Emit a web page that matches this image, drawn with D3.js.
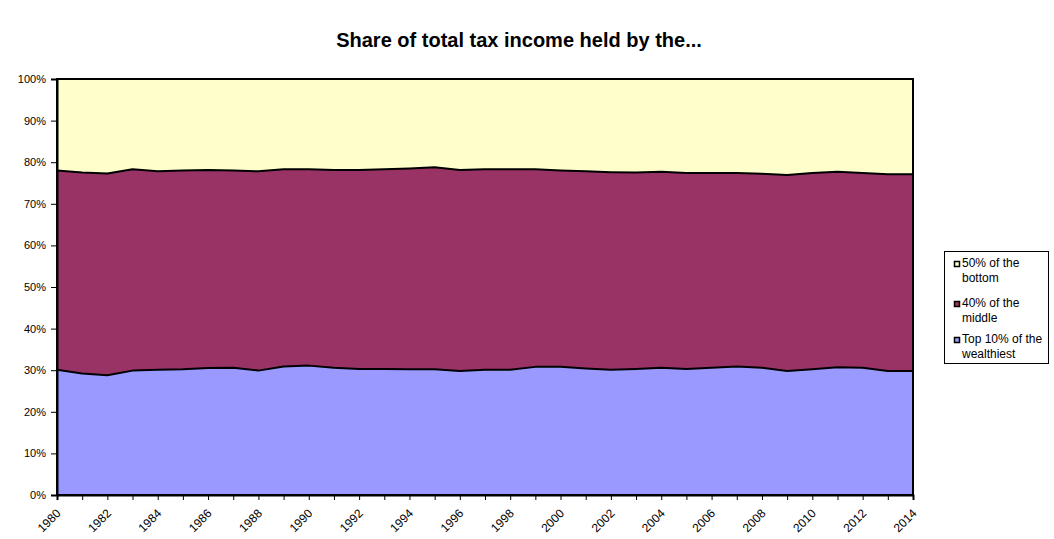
<!DOCTYPE html>
<html><head><meta charset="utf-8">
<script src="https://cdn.jsdelivr.net/npm/d3@7"></script>
<style>body{margin:0;background:#fff}svg{display:block}text{font-family:"Liberation Sans",Arial,sans-serif}</style>
</head><body><svg id="c" width="1054" height="539"></svg>
<script>
const years = d3.range(1980, 2015);
const top10 = [30.1,29.2,28.8,29.9,30.1,30.2,30.5,30.6,29.9,30.9,31.1,30.6,30.3,30.3,30.2,30.2,29.8,30.1,30.1,30.8,30.8,30.4,30.1,30.3,30.6,30.3,30.6,30.9,30.6,29.8,30.2,30.7,30.6,29.8,29.8];
const upper = [78.0,77.5,77.3,78.3,77.8,78.0,78.1,78.0,77.8,78.3,78.3,78.1,78.1,78.3,78.5,78.8,78.1,78.3,78.3,78.3,78.0,77.8,77.6,77.5,77.7,77.4,77.4,77.4,77.2,76.9,77.4,77.7,77.4,77.1,77.1];
const middle40 = upper.map((u,i)=>+(u-top10[i]).toFixed(1));
const bottom50 = upper.map(u=>+(100-u).toFixed(1));
const seriesNames = ["Top 10% of the wealthiest","40% of the middle","50% of the bottom"];
const seriesColors = ["#9999FF","#993366","#FFFFCC"];
const yTicks = [0,10,20,30,40,50,60,70,80,90,100];
const xLabelYears = d3.range(1980, 2015, 2);

const svg = d3.select("#c");
const L=57,R=913,T=79,B=495;
const x = d3.scaleLinear().domain([1980,2014]).range([L,R]);
const y = d3.scaleLinear().domain([0,100]).range([B,T]);

const table = years.map((yr,i)=>({year:yr, a:top10[i], b:middle40[i], c:bottom50[i]}));
const stack = d3.stack().keys(["a","b","c"])(table);
const area = d3.area().x(d=>x(d.data.year)).y0(d=>y(d[0])).y1(d=>y(d[1]));
svg.append("g").selectAll("path").data(stack).join("path")
  .attr("d",area).attr("fill",(d,i)=>seriesColors[i]);
const line = d3.line().x(d=>x(d.data.year)).y(d=>y(d[1]));
svg.append("g").selectAll("path").data(stack.slice(0,2)).join("path")
  .attr("d",line).attr("fill","none").attr("stroke","#000").attr("stroke-width",2).attr("stroke-linejoin","round");
svg.append("rect").attr("x",L).attr("y",T).attr("width",R-L).attr("height",B-T)
  .attr("fill","none").attr("stroke","#000").attr("stroke-width",2);

const ya = svg.append("g").attr("transform",`translate(${L},0)`)
  .call(d3.axisLeft(y).tickValues(yTicks).tickFormat(d=>d+"%").tickSize(6).tickPadding(5));
ya.select(".domain").attr("stroke","#000").attr("stroke-width",2);
ya.selectAll(".tick line").attr("stroke","#000");
ya.selectAll("text").attr("font-size",11).attr("fill","#000").style("font-family","Liberation Sans, Arial, sans-serif");

const xa = svg.append("g").attr("transform",`translate(0,${B})`)
  .call(d3.axisBottom(x).tickValues(years).tickFormat(d=>xLabelYears.includes(d)?String(d):"").tickSize(5));
xa.select(".domain").attr("stroke","#000").attr("stroke-width",2);
xa.selectAll(".tick line").attr("stroke","#000");
xa.selectAll("text").attr("font-size",12).attr("fill","#000").style("font-family","Liberation Sans, Arial, sans-serif")
  .attr("text-anchor","end").attr("dy",null).attr("y",0).attr("x",0).attr("transform","translate(4,19) rotate(-45)");

svg.append("text").attr("x",519).attr("y",47).attr("text-anchor","middle")
  .attr("font-size",20).attr("font-weight","bold").text("Share of total tax income held by the...");

const lg = svg.append("g");
lg.append("rect").attr("x",944.5).attr("y",251.5).attr("width",104).attr("height",112)
  .attr("fill","#fff").attr("stroke","#000").attr("stroke-width",1);
const legItems = [
  {name:seriesNames[2], color:seriesColors[2], lines:["50% of the","bottom"], y:267},
  {name:seriesNames[1], color:seriesColors[1], lines:["40% of the","middle"], y:307},
  {name:seriesNames[0], color:seriesColors[0], lines:["Top 10% of the","wealthiest"], y:343}
];
legItems.forEach(it=>{
  lg.append("rect").attr("x",954.5).attr("y",it.y-5.5).attr("width",5).attr("height",5)
    .attr("fill",it.color).attr("stroke","#000").attr("stroke-width",1.5);
  const t = lg.append("text").attr("x",962).attr("y",it.y).attr("font-size",12);
  it.lines.forEach((s,j)=>t.append("tspan").attr("x",962).attr("dy",j?15:0).text(s));
});
</script></body></html>
